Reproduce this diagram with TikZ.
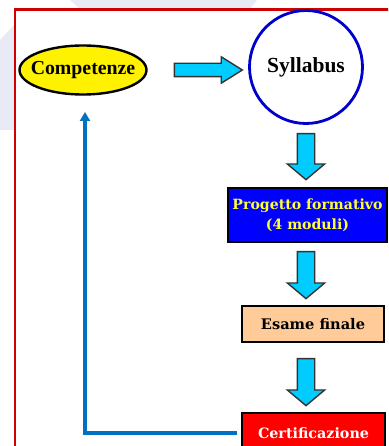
\documentclass[tikz,border=0pt]{standalone}
\usepackage{fontspec}
\setmainfont{Liberation Serif}
\newfontfamily\boxfont{DejaVu Serif}
\usetikzlibrary{shapes.geometric,shapes.arrows,arrows.meta}
\definecolor{arrowcyan}{HTML}{00CCFF}
\definecolor{arrowedge}{HTML}{333333}
\definecolor{fbblue}{HTML}{0070C0}
\definecolor{circblue}{HTML}{0000CC}
\definecolor{progblue}{HTML}{0000FF}
\definecolor{progtext}{HTML}{FFFF33}
\definecolor{peach}{HTML}{FFCC99}
\definecolor{lav}{HTML}{E8EAF5}
\definecolor{frame}{HTML}{D00000}
\tikzset{
  blockbox/.style={draw=black, line width=1.8pt, inner sep=0pt, font=\boxfont\bfseries},
  downarrow/.style={single arrow, draw=arrowedge, fill=arrowcyan, line width=1.4pt,
     inner xsep=0pt, inner ysep=8pt, single arrow head extend=10pt,
     single arrow tip angle=100, rotate=-90},
  rightarrow/.style={single arrow, draw=arrowedge, fill=arrowcyan, line width=1.4pt,
     inner xsep=0pt, inner ysep=6pt, single arrow head extend=6.5pt,
     single arrow tip angle=64},
  feedback/.style={draw=fbblue, line width=3.2pt, -{Triangle[length=9pt,width=10pt]}}
}
\begin{document}
\begin{tikzpicture}[x=1pt,y=1pt]
\useasboundingbox (0,0) rectangle (388,-446);
\clip (0,0) rectangle (388,-446);
\fill[white] (0,0) rectangle (388,-446);
% faint background shapes
\fill[lav] (70,0) -- (257,0) -- (250,-9) -- (80,-9) -- cycle;
\fill[lav] (0,-40) -- (14,-25) -- (14,-130) -- (0,-130) -- cycle;
% red frame
\draw[frame, line width=2.4pt] (15,-460) -- (15,-9.5) -- (400,-9.5);
% nodes
\node[ellipse, draw=black, fill=yellow, line width=2.4pt, minimum width=127pt, minimum height=49pt, inner sep=0pt,
      font=\fontsize{19.8}{22}\selectfont\bfseries] (comp) at (83,-70) {\makebox[0pt]{Competenze}};
\node[circle, draw=circblue, line width=2.8pt, minimum size=113pt, inner sep=0pt,
      font=\fontsize{21.5}{24}\selectfont\bfseries] (syl) at (306,-67) {Syllabus};
\node[blockbox, fill=progblue, text=progtext, minimum width=159pt, minimum height=54pt, align=center,
      font=\boxfont\bfseries\fontsize{14.1}{20}\selectfont] (prog) at (307.5,-215) {Progetto formativo\\(4 moduli)};
\node[blockbox, fill=peach, minimum width=142pt, minimum height=36pt,
      font=\boxfont\bfseries\fontsize{14.6}{16}\selectfont] (esame) at (313,-324) {Esame finale};
\node[blockbox, fill=red, text=white, minimum width=143pt, minimum height=40pt,
      font=\boxfont\bfseries\fontsize{14.3}{16}\selectfont] (cert) at (313.5,-433) {Certificazione};
% block arrows
\node[rightarrow, minimum height=68pt] (ar) at (203,-70) {};
\node[downarrow, minimum height=46pt] (a1) at (306,-153) {};
\node[downarrow, minimum height=47pt] (a2) at (306,-271.5) {};
\node[downarrow, minimum height=47pt] (a3) at (306,-378.5) {};
% feedback
\coordinate (fb) at (85,-112);
\draw[feedback, shorten <=4pt] (cert.west) -| (fb);
\end{tikzpicture}
\end{document}
